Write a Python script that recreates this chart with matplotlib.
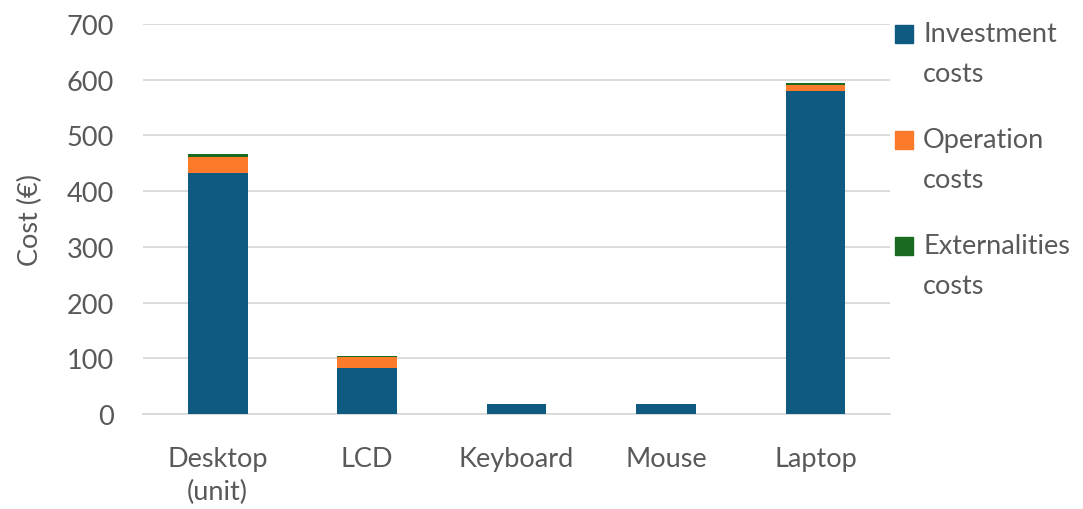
import matplotlib.pyplot as plt
from matplotlib.patches import Rectangle
import numpy as np

# Data
categories = ["Desktop\n(unit)", "LCD", "Keyboard", "Mouse", "Laptop"]
investment = [433, 82, 18, 18, 580]
operation = [28, 20, 0, 0, 11]
externalities = [5, 3, 0, 0, 3]
yticks = [0, 100, 200, 300, 400, 500, 600, 700]
series_names = ["Investment\ncosts", "Operation\ncosts", "Externalities\ncosts"]

colours = ["#0E5A80", "#FB7B2B", "#1A6B1F"]
text_col = "#595959"
plt.rcParams['font.family'] = ['Lato', 'DejaVu Sans']

fig, ax = plt.subplots(figsize=(10.83, 5.1), dpi=100)
fig.subplots_adjust(left=0.132, right=0.822, top=0.951, bottom=0.186)

x = np.arange(len(categories))
inv = np.array(investment)
op = np.array(operation)
ext = np.array(externalities)
ax.bar(x, inv, width=0.4, color=colours[0], zorder=3)
ax.bar(x, op, width=0.4, bottom=inv, color=colours[1], zorder=3)
ax.bar(x, ext, width=0.4, bottom=inv + op, color=colours[2], zorder=3)

ax.set_xlim(-0.5, len(categories) - 0.5)
ax.set_ylim(0, 700)
ax.set_yticks(yticks)
ax.set_xticks(x)
ax.set_xticklabels(categories, linespacing=1.4)
ax.tick_params(axis='both', length=0, labelsize=19.5, labelcolor=text_col)
ax.tick_params(axis='x', pad=23)
ax.tick_params(axis='y', pad=21)
ax.grid(axis='y', color="#D9D9D9", linewidth=1.3, zorder=0)
for s in ["top", "right", "left"]:
    ax.spines[s].set_visible(False)
ax.spines["bottom"].set_color("#D9D9D9")
ax.spines["bottom"].set_linewidth(1.3)
ax.set_ylabel("Cost (€)", fontsize=19.5, color=text_col, labelpad=17)

# Legend on the right, square aligned with the first text line
W, H = 1083, 510
for i, (name, col) in enumerate(zip(series_names, colours)):
    yc = 35 + i * 106
    fig.patches.append(Rectangle((895 / W, 1 - (yc + 9) / H), 18 / W, 18 / H,
                                 transform=fig.transFigure, color=col, figure=fig))
    fig.text(923 / W, 1 - (yc - 13) / H, name, fontsize=19.5, color=text_col,
             va='top', ha='left', linespacing=1.75)

plt.savefig("out.png", dpi=100)
